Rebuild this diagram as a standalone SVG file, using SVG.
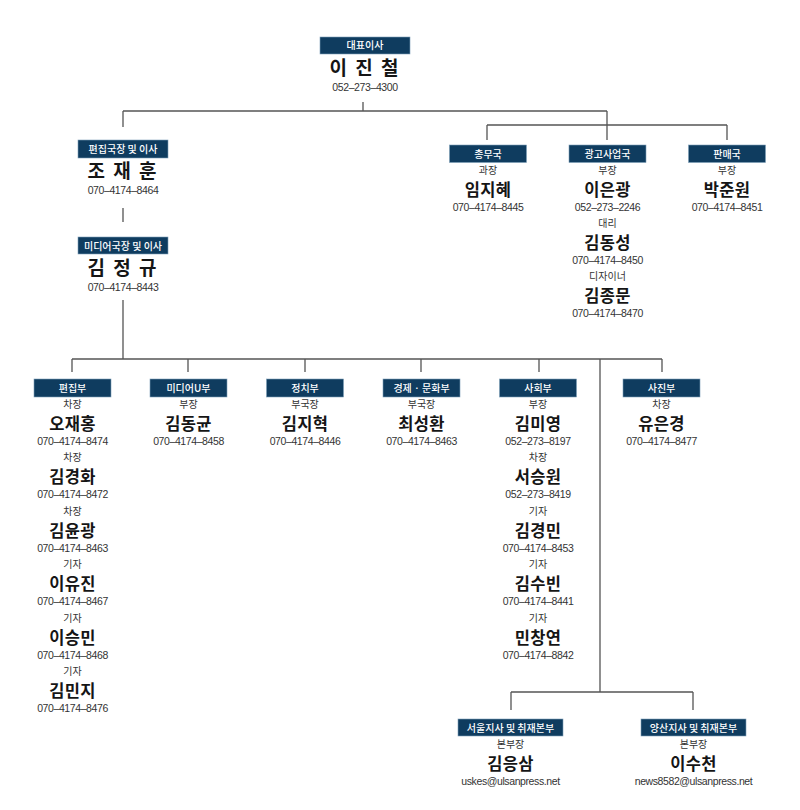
<svg xmlns="http://www.w3.org/2000/svg" width="800" height="810" viewBox="0 0 800 810">
<style>
.bg{fill:#fff}
.hd{fill:#0f3c5f;stroke:#7d9fb8;stroke-width:0.6}
.hl{font-family:"Noto Sans CJK KR",sans-serif;font-size:10px;font-weight:500;fill:#fff;text-anchor:middle}
.tt{font-family:"Noto Sans CJK KR",sans-serif;font-size:10px;fill:#333;text-anchor:middle}
.nm{font-family:"Noto Sans CJK KR",sans-serif;font-size:16.5px;font-weight:bold;fill:#151515;text-anchor:middle;letter-spacing:0.3px}
.big{font-size:19px;letter-spacing:2px}
.ph{font-family:"Liberation Sans",Arial,sans-serif;font-size:10.5px;fill:#333;text-anchor:middle;letter-spacing:-0.4px}
.ln{stroke:#555;stroke-width:1.3;fill:none}
</style>
<rect class="bg" x="0" y="0" width="800" height="810"/>
<g id="connectors">
<path class="ln" d="M363 102V111M123 111H607M123 111V127M607 111V125M487 125H727M487 125V140M607 125V140M727 125V140M123 208V222M123 300V359M72 359H662M72 359V372M188 359V372M305 359V372M421 359V372M539 359V372M662 359V372M600 359V692M511 692H693M511 692V710M693 692V710"/>
</g>
<g id="ceo">
<rect class="hd" x="320" y="37" width="90" height="17"/>
<text class="hl" x="365" y="49">대표이사</text>
<text class="nm big" x="365" y="75">이 진 철</text>
<text class="ph" x="365" y="90.5">052–273–4300</text>
</g>
<g id="editor-chief">
<rect class="hd" x="78" y="140" width="90" height="18"/>
<text class="hl" x="123" y="153">편집국장 및 이사</text>
<text class="nm big" x="123" y="178">조 재 훈</text>
<text class="ph" x="123" y="194">070–4174–8464</text>
</g>
<g id="media-chief">
<rect class="hd" x="78" y="237" width="90" height="17"/>
<text class="hl" x="123" y="249.5">미디어국장 및 이사</text>
<text class="nm big" x="123" y="275">김 정 규</text>
<text class="ph" x="123" y="290.5">070–4174–8443</text>
</g>
<g id="general-affairs">
<rect class="hd" x="449.5" y="145" width="77" height="17.5"/>
<text class="hl" x="488" y="157.5">총무국</text>
<text class="tt" x="488" y="174">과장</text>
<text class="nm" x="488" y="196.2">임지혜</text>
<text class="ph" x="488" y="211">070–4174–8445</text>
</g>
<g id="advertising">
<rect class="hd" x="569" y="145" width="77" height="17.5"/>
<text class="hl" x="607.5" y="157.5">광고사업국</text>
<text class="tt" x="607.5" y="174">부장</text>
<text class="nm" x="607.5" y="196.2">이은광</text>
<text class="ph" x="607.5" y="211">052–273–2246</text>
<text class="tt" x="607.5" y="227">대리</text>
<text class="nm" x="607.5" y="249.2">김동성</text>
<text class="ph" x="607.5" y="264">070–4174–8450</text>
<text class="tt" x="607.5" y="280">디자이너</text>
<text class="nm" x="607.5" y="302.2">김종문</text>
<text class="ph" x="607.5" y="317">070–4174–8470</text>
</g>
<g id="sales">
<rect class="hd" x="688.5" y="145" width="77" height="17.5"/>
<text class="hl" x="727" y="157.5">판매국</text>
<text class="tt" x="727" y="174">부장</text>
<text class="nm" x="727" y="196.2">박준원</text>
<text class="ph" x="727" y="211">070–4174–8451</text>
</g>
<g id="editorial">
<rect class="hd" x="34" y="379" width="77" height="18"/>
<text class="hl" x="72.5" y="392">편집부</text>
<text class="tt" x="72.5" y="407.5">차장</text>
<text class="nm" x="72.5" y="429.7">오재홍</text>
<text class="ph" x="72.5" y="444.5">070–4174–8474</text>
<text class="tt" x="72.5" y="461">차장</text>
<text class="nm" x="72.5" y="483.2">김경화</text>
<text class="ph" x="72.5" y="498">070–4174–8472</text>
<text class="tt" x="72.5" y="514.5">차장</text>
<text class="nm" x="72.5" y="536.7">김윤광</text>
<text class="ph" x="72.5" y="551.5">070–4174–8463</text>
<text class="tt" x="72.5" y="568">기자</text>
<text class="nm" x="72.5" y="590.2">이유진</text>
<text class="ph" x="72.5" y="605">070–4174–8467</text>
<text class="tt" x="72.5" y="621.5">기자</text>
<text class="nm" x="72.5" y="643.7">이승민</text>
<text class="ph" x="72.5" y="658.5">070–4174–8468</text>
<text class="tt" x="72.5" y="675">기자</text>
<text class="nm" x="72.5" y="697.2">김민지</text>
<text class="ph" x="72.5" y="712">070–4174–8476</text>
</g>
<g id="media-u">
<rect class="hd" x="150" y="379" width="77" height="18"/>
<text class="hl" x="188.5" y="392">미디어U부</text>
<text class="tt" x="188.5" y="407.5">부장</text>
<text class="nm" x="188.5" y="429.7">김동균</text>
<text class="ph" x="188.5" y="444.5">070–4174–8458</text>
</g>
<g id="politics">
<rect class="hd" x="266.5" y="379" width="77" height="18"/>
<text class="hl" x="305" y="392">정치부</text>
<text class="tt" x="305" y="407.5">부국장</text>
<text class="nm" x="305" y="429.7">김지혁</text>
<text class="ph" x="305" y="444.5">070–4174–8446</text>
</g>
<g id="economy-culture">
<rect class="hd" x="383" y="379" width="77" height="18"/>
<text class="hl" x="421.5" y="392">경제 · 문화부</text>
<text class="tt" x="421.5" y="407.5">부국장</text>
<text class="nm" x="421.5" y="429.7">최성환</text>
<text class="ph" x="421.5" y="444.5">070–4174–8463</text>
</g>
<g id="society">
<rect class="hd" x="499.5" y="379" width="77" height="18"/>
<text class="hl" x="538" y="392">사회부</text>
<text class="tt" x="538" y="407.5">부장</text>
<text class="nm" x="538" y="429.7">김미영</text>
<text class="ph" x="538" y="444.5">052–273–8197</text>
<text class="tt" x="538" y="461">차장</text>
<text class="nm" x="538" y="483.2">서승원</text>
<text class="ph" x="538" y="498">052–273–8419</text>
<text class="tt" x="538" y="514.5">기자</text>
<text class="nm" x="538" y="536.7">김경민</text>
<text class="ph" x="538" y="551.5">070–4174–8453</text>
<text class="tt" x="538" y="568">기자</text>
<text class="nm" x="538" y="590.2">김수빈</text>
<text class="ph" x="538" y="605">070–4174–8441</text>
<text class="tt" x="538" y="621.5">기자</text>
<text class="nm" x="538" y="643.7">민창연</text>
<text class="ph" x="538" y="658.5">070–4174–8842</text>
</g>
<g id="photo">
<rect class="hd" x="623" y="379" width="77" height="18"/>
<text class="hl" x="661.5" y="392">사진부</text>
<text class="tt" x="661.5" y="407.5">차장</text>
<text class="nm" x="661.5" y="429.7">유은경</text>
<text class="ph" x="661.5" y="444.5">070–4174–8477</text>
</g>
<g id="seoul-branch">
<rect class="hd" x="458" y="719" width="105" height="17"/>
<text class="hl" x="510.5" y="731.5">서울지사 및 취재본부</text>
<text class="tt" x="510.5" y="747.8">본부장</text>
<text class="nm" x="510.5" y="770">김응삼</text>
<text class="ph" x="510.5" y="784.6">uskes@ulsanpress.net</text>
</g>
<g id="yangsan-branch">
<rect class="hd" x="641" y="719" width="105" height="17"/>
<text class="hl" x="693.5" y="731.5">양산지사 및 취재본부</text>
<text class="tt" x="693.5" y="747.8">본부장</text>
<text class="nm" x="693.5" y="770">이수천</text>
<text class="ph" x="693.5" y="784.6">news8582@ulsanpress.net</text>
</g>
</svg>
